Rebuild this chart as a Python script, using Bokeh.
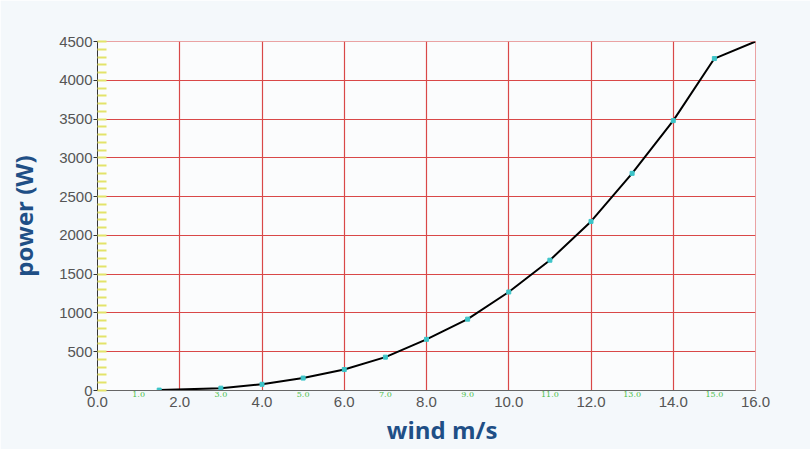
from bokeh.plotting import figure
from bokeh.models import (Range1d, NumeralTickFormatter, FixedTicker, LinearAxis, BoxAnnotation)
from bokeh.embed import file_html
from bokeh.resources import INLINE

wind = [1.5, 3, 4, 5, 6, 7, 8, 9, 10, 11, 12, 13, 14, 15, 16]
power = [5, 30, 80, 160, 270, 430, 660, 920, 1270, 1680, 2180, 2800, 3480, 4280, 4500]
marker_wind = wind[:-1]
marker_power = power[:-1]
x_ticks = [0, 2, 4, 6, 8, 10, 12, 14, 16]
y_ticks = [0, 500, 1000, 1500, 2000, 2500, 3000, 3500, 4000, 4500]
odd_pos = [1, 3, 5, 7, 9, 11, 13, 15]

p = figure(width=810, height=449, output_backend="svg", toolbar_location=None,
           x_range=Range1d(0, 16), y_range=Range1d(0, 4500),
           min_border_left=97, min_border_right=55, min_border_top=41, min_border_bottom=59)
p.border_fill_color = "#f4f8fb"
p.background_fill_color = "white"
p.outline_line_color = "#d94848"

p.add_layout(BoxAnnotation(left=46, right=810, top=10, bottom=415,
                           left_units="canvas", right_units="canvas",
                           top_units="canvas", bottom_units="canvas",
                           fill_color="#fbfcfd", fill_alpha=1, line_color=None, level="image"))

for ax in (p.xaxis, p.yaxis):
    ax.major_label_text_color = "#555555"
    ax.major_label_text_font = "Liberation Sans"
    ax.major_label_text_font_size = "15px"
    ax.axis_label_text_color = "#1f4f86"
    ax.axis_label_text_font = "Open Sans"
    ax.axis_label_text_font_style = "bold"
    ax.axis_label_text_font_size = "24px"

main_x = p.xaxis[0]
main_x.ticker = FixedTicker(ticks=x_ticks)
main_x.formatter = NumeralTickFormatter(format="0.0")
main_x.axis_line_color = None
main_x.major_tick_line_color = None
main_x.minor_tick_line_color = None
main_x.major_label_standoff = -9
main_x.axis_label = "\u00a0\u00a0\u00a0\u00a0\u00a0wind m/s"
main_x.axis_label_standoff = 3

green_x = LinearAxis(ticker=FixedTicker(ticks=odd_pos),
                     formatter=NumeralTickFormatter(format="0.0"))
green_x.axis_line_color = "#666666"
green_x.major_tick_line_color = None
green_x.minor_tick_line_color = None
green_x.major_tick_out = 0
green_x.major_tick_in = 0
green_x.major_label_standoff = 1
green_x.major_label_text_font = "DejaVu Serif"
green_x.major_label_text_font_size = "8px"
green_x.major_label_text_color = "#4cbf4c"
p.below = [green_x, main_x]

p.yaxis.ticker = FixedTicker(ticks=y_ticks, minor_ticks=list(range(0, 4501, 100)))
p.yaxis.axis_line_color = "#333333"
p.yaxis.major_tick_line_color = "#333333"
p.yaxis.major_tick_out = 4
p.yaxis.major_tick_in = 0
p.yaxis.minor_tick_line_color = "#e3e36a"
p.yaxis.minor_tick_line_width = 2
p.yaxis.minor_tick_in = 9
p.yaxis.minor_tick_out = 0
p.yaxis.major_label_standoff = 1
p.yaxis.axis_label = "power (W)"
p.yaxis.axis_label_standoff = 16

p.xgrid.ticker = FixedTicker(ticks=x_ticks)
p.ygrid.ticker = FixedTicker(ticks=y_ticks)
p.grid.grid_line_color = "#d94848"
p.grid.grid_line_width = 1.2
p.grid.level = "underlay"

p.line(wind, power, line_color="black", line_width=2)
p.scatter(marker_wind, marker_power, marker="square", size=4, color="#3cc4c8")

open("out.html", "w").write(file_html(p, INLINE))
